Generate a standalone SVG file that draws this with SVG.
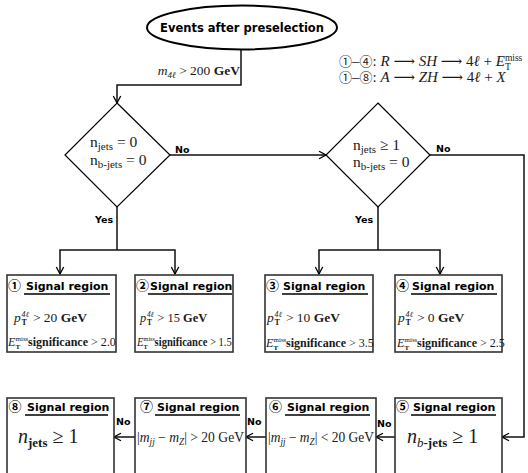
<svg xmlns="http://www.w3.org/2000/svg" width="528" height="473" viewBox="0 0 528 473">
<defs>
<marker id="arr" markerWidth="10" markerHeight="10" refX="9" refY="5" orient="auto" markerUnits="userSpaceOnUse">
<path d="M2,1.3 L9,5 L2,8.7" fill="none" stroke="#000" stroke-width="1.3"/>
</marker>
<style>
.c{fill:none;stroke:#111;stroke-width:1.5}
.ca{fill:none;stroke:#111;stroke-width:1.5;marker-end:url(#arr)}
.box{fill:#fff;stroke:#333;stroke-width:1.6}
.dia{fill:#fff;stroke:#000;stroke-width:1.2}
.ul{stroke:#000;stroke-width:1.3}
.lbl{font-family:"DejaVu Sans",sans-serif;font-weight:bold;font-size:9.5px;fill:#000}
.ttl{font-family:"DejaVu Sans",sans-serif;font-weight:bold;font-size:11px;fill:#000}
.cn{font-family:"Noto Sans CJK JP","DejaVu Sans",sans-serif;font-weight:bold;font-size:13px}
.m{font-family:"Liberation Serif","DejaVu Serif",serif;fill:#1a1a1a}
.i{font-style:italic}
.b{font-weight:bold}
.cd{font-family:"Noto Sans CJK JP","DejaVu Sans",sans-serif;font-weight:normal;font-size:13px}
</style>
</defs>

<g id="connectors">
<path class="ca" d="M241,50 V85 H117 V103"/>
<path class="ca" d="M170,155 H326"/>
<path class="c" d="M117,207 V250"/>
<path class="ca" d="M117,250 H60 V274"/>
<path class="ca" d="M117,250 H175 V274"/>
<path class="c" d="M378,207 V250"/>
<path class="ca" d="M378,250 H319 V274"/>
<path class="ca" d="M378,250 H440 V274"/>
<path class="ca" d="M430,155 H524 V437 H502"/>
<path class="ca" d="M395,437 H376"/>
<path class="ca" d="M266,437 H246"/>
<path class="ca" d="M135,437 H114"/>
<text class="m" x="240" y="75" font-size="13.5" text-anchor="end"><tspan class="i">m</tspan><tspan font-size="9" dy="3" class="i">4ℓ</tspan><tspan dy="-3"> &gt; 200 </tspan><tspan class="b">GeV</tspan></text>
<text class="lbl" x="175" y="153">No</text>
<text class="lbl" x="436" y="152">No</text>
<text class="lbl" x="95" y="223">Yes</text>
<text class="lbl" x="355" y="223">Yes</text>
<text class="lbl" x="116" y="425">No</text>
<text class="lbl" x="247" y="425">No</text>
<text class="lbl" x="377" y="427">No</text>
</g>

<g id="start">
<ellipse cx="242" cy="27.5" rx="95" ry="22" fill="#fff" stroke="#000" stroke-width="2"/>
<text x="242" y="31.5" text-anchor="middle" font-family="DejaVu Sans, sans-serif" font-weight="bold" font-size="11.5">Events after preselection</text>
</g>

<g id="legend">
<text class="m" x="339" y="65.5" font-size="15"><tspan class="cd">①</tspan>–<tspan class="cd">④</tspan>: <tspan class="i">R</tspan> ⟶ <tspan class="i">SH</tspan> ⟶ 4<tspan class="i">ℓ</tspan> + <tspan class="i">E</tspan><tspan font-size="9.5" dy="-5">miss</tspan><tspan font-size="9.5" dx="-17.4" dy="9">T</tspan></text>
<text class="m" x="339" y="81.5" font-size="15"><tspan class="cd">①</tspan>–<tspan class="cd">⑧</tspan>: <tspan class="i">A</tspan> ⟶ <tspan class="i">ZH</tspan> ⟶ 4<tspan class="i">ℓ</tspan> + <tspan class="i">X</tspan></text>
</g>

<g id="d1">
<polygon class="dia" points="117,103 170,155 117,207 65,155"/>
<text class="m" x="90" y="147" font-size="15.5">n<tspan font-size="11" dy="3">jets</tspan><tspan dy="-3"> = 0</tspan></text>
<text class="m" x="90" y="165" font-size="15.5">n<tspan font-size="11" dy="3">b-jets</tspan><tspan dy="-3"> = 0</tspan></text>
</g>

<g id="d2">
<polygon class="dia" points="378,103 430,155 378,207 326,155"/>
<text class="m" x="353" y="150" font-size="15.5">n<tspan font-size="11" dy="3">jets</tspan><tspan dy="-3"> ≥ 1</tspan></text>
<text class="m" x="353" y="167" font-size="15.5">n<tspan font-size="11" dy="3">b-jets</tspan><tspan dy="-3"> = 0</tspan></text>
</g>

<g id="sr1">
<rect class="box" x="7" y="275" width="109" height="77"/>
<text class="ttl" x="8" y="289.5"><tspan class="cn">①</tspan><tspan x="26">Signal region</tspan></text>
<line class="ul" x1="24" y1="294" x2="110" y2="294"/>
<g transform="translate(14,322)">
<text class="m" font-size="13.5"><tspan class="i" x="0">p</tspan><tspan font-size="8" x="7.5" dy="-5" class="i">4ℓ</tspan><tspan font-size="8" x="7.5" dy="8" class="b">T</tspan><tspan x="15.5" dy="-3"> &gt; 20 </tspan><tspan class="b">GeV</tspan></text>
</g>
<g transform="translate(8,346)">
<text class="m" font-size="12"><tspan class="i" x="0">E</tspan><tspan font-size="7" x="7.5" dy="-5">miss</tspan><tspan font-size="7" x="7.5" dy="8" class="b">T</tspan><tspan x="20" dy="-3" class="b">significance</tspan><tspan> &gt; 2.0</tspan></text>
</g>
</g>

<g id="sr2">
<rect class="box" x="135" y="275" width="98" height="77"/>
<text class="ttl" x="136" y="289.5"><tspan class="cn">②</tspan><tspan x="150">Signal region</tspan></text>
<line class="ul" x1="148" y1="294" x2="232" y2="294"/>
<g transform="translate(140,322) scale(0.92,1)">
<text class="m" font-size="13.5"><tspan class="i" x="0">p</tspan><tspan font-size="8" x="7.5" dy="-5" class="i">4ℓ</tspan><tspan font-size="8" x="7.5" dy="8" class="b">T</tspan><tspan x="15.5" dy="-3"> &gt; 15 </tspan><tspan class="b">GeV</tspan></text>
</g>
<g transform="translate(137,346) scale(0.88,1)">
<text class="m" font-size="12"><tspan class="i" x="0">E</tspan><tspan font-size="7" x="7.5" dy="-5">miss</tspan><tspan font-size="7" x="7.5" dy="8" class="b">T</tspan><tspan x="20" dy="-3" class="b">significance</tspan><tspan> &gt; 1.5</tspan></text>
</g>
</g>

<g id="sr3">
<rect class="box" x="265" y="275" width="108" height="77"/>
<text class="ttl" x="266" y="289.5"><tspan class="cn">③</tspan><tspan x="283">Signal region</tspan></text>
<line class="ul" x1="282" y1="294" x2="368" y2="294"/>
<g transform="translate(267,322)">
<text class="m" font-size="13.5"><tspan class="i" x="0">p</tspan><tspan font-size="8" x="7.5" dy="-5" class="i">4ℓ</tspan><tspan font-size="8" x="7.5" dy="8" class="b">T</tspan><tspan x="15.5" dy="-3"> &gt; 10 </tspan><tspan class="b">GeV</tspan></text>
</g>
<g transform="translate(266,347)">
<text class="m" font-size="12"><tspan class="i" x="0">E</tspan><tspan font-size="7" x="7.5" dy="-5">miss</tspan><tspan font-size="7" x="7.5" dy="8" class="b">T</tspan><tspan x="20" dy="-3" class="b">significance</tspan><tspan> &gt; 3.5</tspan></text>
</g>
</g>

<g id="sr4">
<rect class="box" x="395" y="275" width="107" height="77"/>
<text class="ttl" x="396" y="289.5"><tspan class="cn">④</tspan><tspan x="412">Signal region</tspan></text>
<line class="ul" x1="411" y1="294" x2="497" y2="294"/>
<g transform="translate(398,322)">
<text class="m" font-size="13.5"><tspan class="i" x="0">p</tspan><tspan font-size="8" x="7.5" dy="-5" class="i">4ℓ</tspan><tspan font-size="8" x="7.5" dy="8" class="b">T</tspan><tspan x="15.5" dy="-3"> &gt; 0 </tspan><tspan class="b">GeV</tspan></text>
</g>
<g transform="translate(397,347)">
<text class="m" font-size="12"><tspan class="i" x="0">E</tspan><tspan font-size="7" x="7.5" dy="-5">miss</tspan><tspan font-size="7" x="7.5" dy="8" class="b">T</tspan><tspan x="20" dy="-3" class="b">significance</tspan><tspan> &gt; 2.5</tspan></text>
</g>
</g>

<g id="sr5">
<rect class="box" x="395" y="398" width="107" height="90"/>
<text class="ttl" x="396" y="410.5"><tspan class="cn">⑤</tspan><tspan x="413">Signal region</tspan></text>
<line class="ul" x1="411" y1="415" x2="496" y2="415"/>
<text class="m" x="407" y="443" font-size="20"><tspan class="i">n</tspan><tspan font-size="13" dy="4" class="i">b</tspan><tspan font-size="13" class="b">-jets</tspan><tspan dy="-4"> ≥ 1</tspan></text>
</g>

<g id="sr6">
<rect class="box" x="266" y="398" width="110" height="90"/>
<text class="ttl" x="269" y="410.5"><tspan class="cn">⑥</tspan><tspan x="287">Signal region</tspan></text>
<line class="ul" x1="285" y1="415" x2="370" y2="415"/>
<text class="m" x="268" y="442" font-size="14" textLength="106" lengthAdjust="spacingAndGlyphs">|<tspan class="i">m</tspan><tspan font-size="9.5" dy="3" class="i">jj</tspan><tspan dy="-3"> − </tspan><tspan class="i">m</tspan><tspan font-size="9.5" dy="3" class="i">Z</tspan><tspan dy="-3">| &lt; 20 GeV</tspan></text>
</g>

<g id="sr7">
<rect class="box" x="135" y="398" width="111" height="90"/>
<text class="ttl" x="140" y="410.5"><tspan class="cn">⑦</tspan><tspan x="157">Signal region</tspan></text>
<line class="ul" x1="155" y1="415" x2="240" y2="415"/>
<text class="m" x="137" y="442" font-size="14" textLength="107" lengthAdjust="spacingAndGlyphs">|<tspan class="i">m</tspan><tspan font-size="9.5" dy="3" class="i">jj</tspan><tspan dy="-3"> − </tspan><tspan class="i">m</tspan><tspan font-size="9.5" dy="3" class="i">Z</tspan><tspan dy="-3">| &gt; 20 GeV</tspan></text>
</g>

<g id="sr8">
<rect class="box" x="7" y="398" width="107" height="90"/>
<text class="ttl" x="8.5" y="410.5"><tspan class="cn">⑧</tspan><tspan x="27">Signal region</tspan></text>
<line class="ul" x1="25" y1="415" x2="108" y2="415"/>
<text class="m" x="18" y="443" font-size="20"><tspan class="i">n</tspan><tspan font-size="13" dy="4" class="b">jets</tspan><tspan dy="-4"> ≥ 1</tspan></text>
</g>
</svg>
